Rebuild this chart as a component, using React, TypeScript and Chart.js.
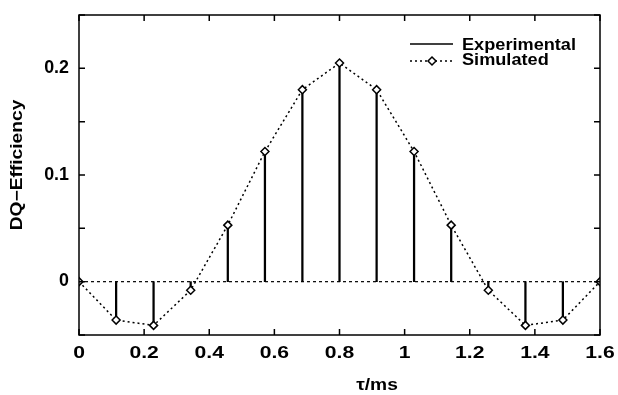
import React, { useEffect, useRef } from "react";
import { Chart, registerables } from "chart.js";

Chart.register(...registerables);

const tauValues = [0, 0.114, 0.229, 0.343, 0.457, 0.571, 0.686, 0.8, 0.914, 1.029, 1.143, 1.257, 1.371, 1.486, 1.6];
const simulated = [0, -0.036, -0.041, -0.008, 0.053, 0.122, 0.18, 0.205, 0.18, 0.122, 0.053, -0.008, -0.041, -0.036, 0];
const experimental = [0, -0.036, -0.041, -0.005, 0.053, 0.122, 0.18, 0.205, 0.18, 0.122, 0.053, -0.005, -0.041, -0.036, 0];
const xTicks = [0, 0.2, 0.4, 0.6, 0.8, 1, 1.2, 1.4, 1.6];
const xTickLabels = ["0", "0.2", "0.4", "0.6", "0.8", "1", "1.2", "1.4", "1.6"];
const yTicks = [-0.05, 0, 0.05, 0.1, 0.15, 0.2, 0.25];
const yTickLabels = ["", "0", "", "0.1", "", "0.2", ""];
const xTitle = "τ/ms";
const yTitle = "DQ−Efficiency";
const legendLabels = ["Experimental", "Simulated"];

const FONT = '"Liberation Sans", Arial, Helvetica, sans-serif';

function stretchedText(ctx: CanvasRenderingContext2D, text: string, x: number, y: number, sx: number, align: CanvasTextAlign) {
  ctx.save();
  ctx.translate(x, y);
  ctx.scale(sx, 1);
  ctx.textAlign = align;
  ctx.fillText(text, 0, 0);
  ctx.restore();
}

const framePlugin = {
  id: "frame",
  afterDraw(chart: any) {
    const ctx = chart.ctx;
    const { left, right, top, bottom } = chart.chartArea;
    const xs = chart.scales.x;
    const ys = chart.scales.y;
    ctx.save();
    ctx.strokeStyle = "#000";
    ctx.fillStyle = "#000";
    ctx.lineWidth = 1.5;
    ctx.setLineDash([]);
    ctx.strokeRect(left, top, right - left, bottom - top);
    const tl = 6;
    ctx.beginPath();
    xTicks.forEach((v) => {
      const px = xs.getPixelForValue(v);
      ctx.moveTo(px, bottom);
      ctx.lineTo(px, bottom - tl);
      ctx.moveTo(px, top);
      ctx.lineTo(px, top + tl);
    });
    yTicks.forEach((v) => {
      const py = ys.getPixelForValue(v);
      ctx.moveTo(left, py);
      ctx.lineTo(left + tl, py);
      ctx.moveTo(right, py);
      ctx.lineTo(right - tl, py);
    });
    ctx.stroke();

    ctx.textBaseline = "middle";
    ctx.font = `bold 16.5px ${FONT}`;
    xTicks.forEach((v, i) => {
      stretchedText(ctx, xTickLabels[i], xs.getPixelForValue(v), bottom + 18, 1.28, "center");
    });
    ctx.font = `bold 17.5px ${FONT}`;
    yTicks.forEach((v, i) => {
      if (yTickLabels[i]) stretchedText(ctx, yTickLabels[i], left - 10, ys.getPixelForValue(v), 1.02, "right");
    });

    ctx.font = `bold 16px ${FONT}`;
    stretchedText(ctx, xTitle, 377, 386, 1.2, "center");
    ctx.save();
    ctx.translate(18, 165);
    ctx.rotate(-Math.PI / 2);
    ctx.scale(1.2, 1);
    ctx.textAlign = "center";
    ctx.fillText(yTitle, 0, 0);
    ctx.restore();

    // legend
    ctx.lineWidth = 1.5;
    ctx.beginPath();
    ctx.moveTo(410, 44);
    ctx.lineTo(453, 44);
    ctx.stroke();
    ctx.setLineDash([2, 3]);
    ctx.beginPath();
    ctx.moveTo(410, 61);
    ctx.lineTo(453, 61);
    ctx.stroke();
    ctx.setLineDash([]);
    ctx.beginPath();
    ctx.moveTo(432, 57);
    ctx.lineTo(436, 61);
    ctx.lineTo(432, 65);
    ctx.lineTo(428, 61);
    ctx.closePath();
    ctx.fillStyle = "#fff";
    ctx.fill();
    ctx.stroke();
    ctx.fillStyle = "#000";
    ctx.font = `bold 16.5px ${FONT}`;
    ctx.textBaseline = "alphabetic";
    stretchedText(ctx, legendLabels[0], 462, 50, 1.1, "left");
    stretchedText(ctx, legendLabels[1], 462, 65, 1.1, "left");
    ctx.restore();
  },
};

export default function App() {
  const ref = useRef<HTMLCanvasElement | null>(null);
  useEffect(() => {
    if (!ref.current) return;
    const chart = new Chart(ref.current, {
      type: "bar",
      data: {
        datasets: [
          {
            type: "line",
            label: "zero",
            data: [
              { x: xTicks[0], y: 0 },
              { x: xTicks[xTicks.length - 1], y: 0 },
            ],
            borderColor: "#000",
            borderWidth: 1.2,
            borderDash: [3, 3],
            pointRadius: 0,
            order: 3,
          } as any,
          {
            type: "bar",
            label: legendLabels[0],
            data: tauValues.map((x, i) => ({ x, y: experimental[i] })),
            backgroundColor: "#000",
            borderWidth: 0,
            barThickness: 1.6,
            order: 2,
          } as any,
          {
            type: "line",
            label: legendLabels[1],
            data: tauValues.map((x, i) => ({ x, y: simulated[i] })),
            borderColor: "#000",
            borderWidth: 1.5,
            borderDash: [2, 3],
            pointStyle: "rectRot",
            pointRadius: 4,
            pointBorderWidth: 1.5,
            pointBackgroundColor: "#fff",
            pointBorderColor: "#000",
            tension: 0,
            order: 1,
          } as any,
        ],
      },
      options: {
        responsive: false,
        animation: false,
        layout: { padding: { left: 79, right: 18, top: 15, bottom: 60 } },
        plugins: { legend: { display: false }, tooltip: { enabled: false } },
        scales: {
          x: { type: "linear", min: 0, max: 1.6, display: false, offset: false },
          y: { type: "linear", min: -0.05, max: 0.25, display: false },
        },
      },
      plugins: [framePlugin],
    });
    return () => chart.destroy();
  }, []);
  return (
    <div style={{ position: "fixed", left: 0, top: 0, width: 618, height: 395, background: "#fff" }}>
      <canvas ref={ref} width={618} height={395} />
    </div>
  );
}
